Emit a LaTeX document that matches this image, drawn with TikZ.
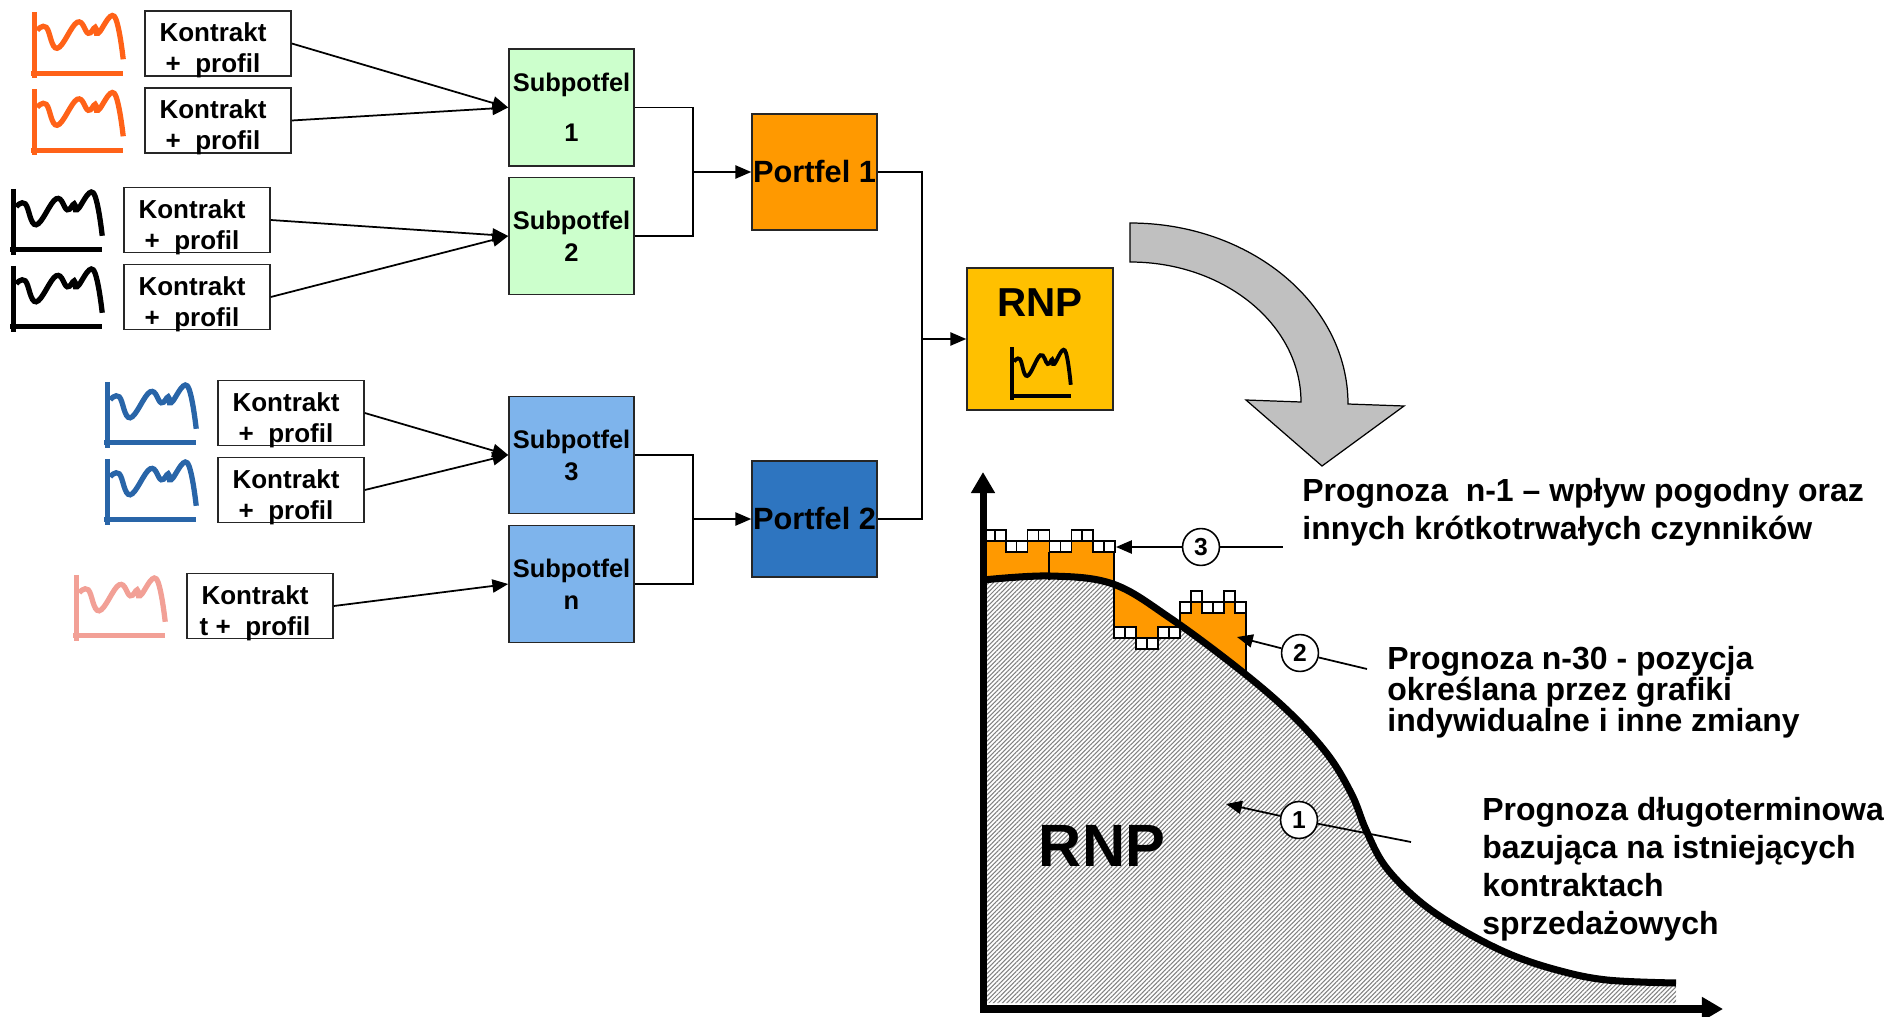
\documentclass[tikz,border=0pt]{standalone}
\usepackage{fontspec}
\setmainfont{Liberation Sans}
\usetikzlibrary{arrows.meta,patterns.meta}

\definecolor{ikpom}{RGB}{255,98,24}
\definecolor{iknieb}{RGB}{41,101,168}
\definecolor{ikroz}{RGB}{242,160,150}
\definecolor{ziel}{RGB}{204,255,204}
\definecolor{jnieb}{RGB}{126,180,236}
\definecolor{pom}{RGB}{255,153,0}
\definecolor{cnieb}{RGB}{46,117,192}
\definecolor{zolty}{RGB}{255,192,0}
\definecolor{szary}{RGB}{192,192,192}

\tikzstyle{kt}=[draw=black!85,fill=white,line width=.9pt,minimum width=2.92cm,minimum height=1.3cm,inner sep=0pt]
\tikzstyle{kttxt}=[inner sep=0pt,align=center,font=\fontsize{14.8}{17.6}\selectfont\bfseries]
\tikzstyle{sp}=[draw=black!85,line width=.9pt,minimum width=2.5cm,minimum height=2.34cm,inner sep=0pt,align=center,font=\fontsize{14.5}{18.2}\selectfont\bfseries]
\tikzstyle{pf}=[draw=black!85,line width=.9pt,minimum width=2.5cm,minimum height=2.32cm,inner sep=0pt,font=\fontsize{17.5}{20}\selectfont\bfseries]
\tikzstyle{nr}=[circle,draw=black,fill=white,line width=.9pt,minimum size=21pt,inner sep=0pt,font=\fontsize{14}{16}\selectfont\bfseries]
\tikzstyle{opis}=[anchor=west,inner sep=0pt,align=left,font=\fontsize{18.2}{21.6}\selectfont\bfseries]
\tikzstyle{lin}=[line width=1pt]
\tikzstyle{str}=[line width=1pt,-{Triangle[length=9pt,width=7.5pt]}]
\tikzstyle{kratka}=[draw=black,fill=white,line width=.8pt]

\tikzset{wykres/.pic={
  \draw (0,-61) -- (0,5) (-3,0) -- (89,0);
  \draw plot[smooth,tension=.7] coordinates {(3,-43) (12,-46) (23,-25) (43,-51) (54,-40) (61,-46) (64,-40) (80,-57) (89,-14)};
}}
\newcommand{\krzywa}{plot[smooth,tension=.6] coordinates {(983,580) (1050,576) (1113,584) (1170,618) (1240,670) (1290,713) (1328,755) (1352,795) (1366,830) (1385,866) (1418,900) (1457,927) (1507,953) (1557,970) (1607,980) (1676,983)}}

\begin{document}
\begin{tikzpicture}[x=.02cm,y=-.02cm]
\useasboundingbox (0,0) rectangle (1889,1017);
% kontrakty
\foreach \nazwa/\x/\y/\kol in {k1/218/43.5/ikpom,k2/218/120.5/ikpom,k3/197/220/black,k4/197/297/black,k5/291/413/iknieb,k6/291/490/iknieb} {
\node[kt] (\nazwa) at (\x,\y) {};
\node[kttxt] (\nazwa t) at ([shift={(-5,7)}]\nazwa.center) {Kontrakt\\+\ \ profil};
\pic[color=\kol,line width=3pt] at ([shift={(-110,-3.5)}]\nazwa.south west) {wykres};}
\node[kt] (k7) at (260,606) {};
\node[kttxt] (k7t) at ([shift={(-5,7)}]k7.center) {Kontrakt\\t +\ \ profil};
\pic[color=ikroz,line width=3pt] at ([shift={(-110,-3.5)}]k7.south west) {wykres};
% subportfele i portfele
\node[sp,fill=ziel] (s1) at (571.5,107.5) {Subpotfel\\[10pt]1};
\node[sp,fill=ziel] (s2) at (571.5,236) {Subpotfel\\2};
\node[sp,fill=jnieb] (s3) at (571.5,455) {Subpotfel\\3};
\node[sp,fill=jnieb] (sn) at (571.5,584) {Subpotfel\\n};
\node[pf,fill=pom] (p1) at (814.5,172) {Portfel 1};
\node[pf,fill=cnieb] (p2) at (814.5,519) {Portfel 2};
\node[draw=black!85,fill=zolty,line width=.9pt,minimum width=2.92cm,minimum height=2.84cm] (rnp) at (1040,339) {};
\node[font=\fontsize{23}{26}\selectfont\bfseries] (rnptxt) at (1040,303) {RNP};
\pic[line width=2.2pt,xscale=.66,yscale=.8] at (1012,396) {wykres};
\draw[str] (k1.east) -- (s1.west);
\draw[str] (k2.east) -- (s1.west);
\draw[str] (k3.east) -- (s2.west);
\draw[str] (k4.east) -- (s2.west);
\draw[str] (k5.east) -- (s3.west);
\draw[str] (k6.east) -- (s3.west);
\draw[str] (k7.east) -- (sn.west);
\coordinate (j1) at (693,172);
\coordinate (j2) at (693,519);
\coordinate (j3) at (922,339);
\draw[lin] (s1.east) -| (j1) |- (s2.east);
\draw[str] (j1) -- (p1.west);
\draw[lin] (s3.east) -| (j2) |- (sn.east);
\draw[str] (j2) -- (p2.west);
\draw[lin] (p1.east) -| (j3) |- (p2.east);
\draw[str] (j3) -- (rnp.west);
% strzalka
\filldraw[fill=szary,draw=black,line width=.7pt] (1130,223) arc[start angle=-90,end angle=0,x radius=218,y radius=181] -- (1404,406) -- (1322,466) -- (1246,400) -- (1301,402) arc[start angle=0,end angle=-90,x radius=171,y radius=140] -- cycle;
% wykres RNP
\fill[pom] (983,541) rectangle (1114,600);
\fill[pom] (1180,602) rectangle (1246,700);
\fill[white] \krzywa -- (1676,1003) -- (983,1003) -- cycle;
\fill[pattern={Lines[angle=45,distance=1.8pt,line width=.6pt]},pattern color=gray] \krzywa -- (1676,1003) -- (983,1003) -- cycle;
\begin{scope}
\clip \krzywa -- (1676,1003) -- (983,1003) -- cycle;
\fill[pom] (1114,560) rectangle (1180,638);
\end{scope}
\draw[line width=.9pt] (1049,552) -- (1049,580) (1114,541) -- (1114,627) (1180,613) -- (1180,627) (1246,613) -- (1246,676);
\foreach \i/\r in {0/0,1/0,2/1,3/1,4/0,5/0,6/1,7/1,8/0,9/0,10/1,11/1}
\draw[kratka] ({984+10.9*\i},{530+11*\r}) rectangle ++(10.9,11);
\foreach \i/\r in {0/0,1/0,2/1,3/1,4/0,5/0}
\draw[kratka] ({1114+11*\i},{627+11*\r}) rectangle ++(11,11);
\foreach \i/\r in {0/1,1/0,2/1,3/1,4/0,5/1}
\draw[kratka] ({1180+11*\i},{591+11*\r}) rectangle ++(11,11);
\draw[line width=4pt] \krzywa;
\draw[line width=4pt,{Triangle[length=12pt,width=13pt]}-{Triangle[length=12pt,width=13pt]}] (983,472) -- (983,1009) -- (1723,1009);
\node[font=\fontsize{34}{38}\selectfont\bfseries] (rnpduzy) at (1102,846) {RNP};
% opisy
\node[nr] (c3) at (1201,547) {3};
\node[nr] (c2) at (1300,653) {2};
\node[nr] (c1) at (1299,820) {1};
\coordinate (c3a) at (1116,547);
\coordinate (c3b) at (1283,547);
\coordinate (c2a) at (1237,637);
\coordinate (c2b) at (1367,669);
\coordinate (c1a) at (1226,804);
\coordinate (c1b) at (1411,842);
\draw[str] (c3) -- (c3a);
\draw[lin] (c3) -- (c3b);
\draw[str] (c2) -- (c2a);
\draw[lin] (c2) -- (c2b);
\draw[str] (c1) -- (c1a);
\draw[lin] (c1) -- (c1b);
\node[opis] (t1) at (1302,512) {Prognoza\ \ n-1 – wpływ pogodny oraz\\innych krótkotrwałych czynników};
\node[opis,font=\fontsize{18.2}{17.6}\selectfont\bfseries] (t2) at (1387,692) {Prognoza n-30 - pozycja\\określana przez grafiki\\indywidualne i inne zmiany};
\node[opis] (t3) at (1482,869) {Prognoza długoterminowa\\bazująca na istniejących\\kontraktach\\sprzedażowych};
\end{tikzpicture}
\end{document}
